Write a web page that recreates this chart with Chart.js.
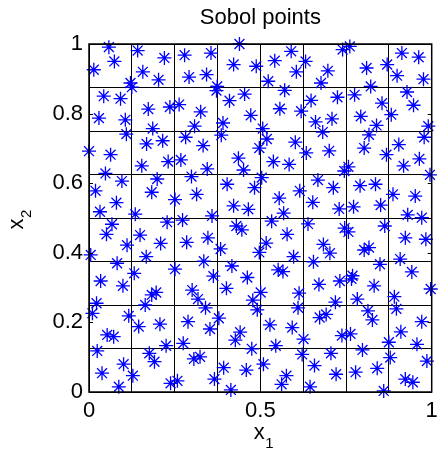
<!DOCTYPE html>
<html>
<head>
<meta charset="utf-8">
<script src="https://cdn.jsdelivr.net/npm/chart.js@4.4.1/dist/chart.umd.min.js"></script>
<style>
html, body { margin: 0; padding: 0; background: #fff; }
#wrap { width: 440px; height: 455px; }
</style>
</head>
<body>
<div id="wrap"><canvas id="c"></canvas></div>
<script>
// point coordinates
const xs = [
  0.058, 0.142, 0.220, 0.074, 0.014, 0.157, 0.203, 0.121, 0.125, 0.043, 0.092, 0.173, 0.236, 0.029, 0.106, 0.186, 0.109, 0.168, 0.215, 0.000, 0.063,
  0.439, 0.279, 0.356, 0.422, 0.488, 0.292, 0.343, 0.374, 0.372, 0.454, 0.410, 0.263, 0.326, 0.472, 0.391, 0.308, 0.507, 0.386, 0.282, 0.519, 0.333, 0.497,
  0.740, 0.761, 0.590, 0.542, 0.632, 0.605, 0.697, 0.523, 0.677, 0.571, 0.725, 0.648, 0.557, 0.619, 0.709, 0.661, 0.682, 0.602, 0.701, 0.634,
  0.913, 0.962, 0.810, 0.870, 0.899, 0.976, 0.822, 0.775, 0.928, 0.855, 0.947, 0.882, 0.793, 0.839, 0.990, 0.817, 0.978, 0.803, 0.904, 0.868,
  0.154, 0.231, 0.048, 0.096, 0.199, 0.019, 0.183, 0.251, 0.080, 0.032, 0.135, 0.067, 0.228, 0.051, 0.149, 0.111, 0.209, 0.005, 0.167, 0.082, 0.251, 0.132,
  0.268, 0.436, 0.451, 0.345, 0.299, 0.504, 0.403, 0.483, 0.314, 0.422, 0.465, 0.359, 0.273, 0.430, 0.446, 0.347, 0.285, 0.384, 0.497, 0.517, 0.335, 0.417, 0.363, 0.462,
  0.538, 0.584, 0.745, 0.757, 0.668, 0.713, 0.615, 0.555, 0.653, 0.730, 0.568, 0.533, 0.639, 0.746, 0.757, 0.578, 0.684, 0.703, 0.597, 0.655, 0.552, 0.566,
  0.964, 0.918, 0.995, 0.791, 0.836, 0.887, 0.952, 0.772, 0.851, 0.930, 0.971, 0.863, 0.923, 0.983, 0.803, 0.817, 0.908, 0.849, 0.942, 0.769,
  0.034, 0.099, 0.183, 0.196, 0.022, 0.164, 0.010, 0.116, 0.207, 0.145, 0.053, 0.072, 0.225, 0.024, 0.176, 0.191, 0.101, 0.038, 0.128, 0.087, 0.238,
  0.301, 0.401, 0.501, 0.318, 0.478, 0.340, 0.491, 0.289, 0.379, 0.353, 0.441, 0.427, 0.275, 0.475, 0.306, 0.324, 0.393, 0.509, 0.459, 0.258, 0.366, 0.414,
  0.671, 0.732, 0.613, 0.610, 0.719, 0.692, 0.673, 0.528, 0.593, 0.738, 0.626, 0.545, 0.706, 0.622, 0.658, 0.721, 0.576, 0.562, 0.645,
  0.766, 0.832, 0.997, 0.783, 0.891, 0.897, 0.814, 0.827, 0.971, 0.763, 0.910, 0.875, 0.957, 0.798, 0.879, 0.986, 0.841, 0.778, 0.923, 0.945, 0.860
];
const ys = [
  0.991, 0.981, 0.960, 0.950, 0.926, 0.920, 0.897, 0.888, 0.876, 0.850, 0.843, 0.813, 0.819, 0.787, 0.782, 0.757, 0.741, 0.713, 0.722, 0.692, 0.682,
  1.000, 0.968, 0.974, 0.941, 0.936, 0.905, 0.912, 0.878, 0.866, 0.856, 0.837, 0.826, 0.805, 0.795, 0.773, 0.764, 0.757, 0.738, 0.732, 0.727, 0.708, 0.701,
  0.984, 0.993, 0.979, 0.952, 0.950, 0.920, 0.923, 0.893, 0.888, 0.867, 0.847, 0.838, 0.814, 0.807, 0.785, 0.776, 0.747, 0.718, 0.693, 0.687,
  0.974, 0.962, 0.931, 0.941, 0.909, 0.899, 0.878, 0.854, 0.862, 0.830, 0.824, 0.797, 0.792, 0.766, 0.764, 0.739, 0.732, 0.701, 0.711, 0.682,
  0.650, 0.662, 0.628, 0.606, 0.612, 0.578, 0.574, 0.553, 0.544, 0.518, 0.511, 0.482, 0.488, 0.453, 0.451, 0.422, 0.427, 0.394, 0.389, 0.370, 0.353, 0.341,
  0.667, 0.672, 0.638, 0.641, 0.619, 0.616, 0.597, 0.587, 0.568, 0.535, 0.525, 0.506, 0.494, 0.477, 0.466, 0.443, 0.430, 0.411, 0.401, 0.428, 0.376, 0.362, 0.333, 0.329,
  0.662, 0.654, 0.635, 0.647, 0.609, 0.587, 0.578, 0.557, 0.545, 0.526, 0.514, 0.491, 0.483, 0.471, 0.460, 0.453, 0.424, 0.399, 0.389, 0.374, 0.351, 0.346,
  0.670, 0.650, 0.624, 0.593, 0.597, 0.568, 0.563, 0.532, 0.537, 0.509, 0.501, 0.477, 0.443, 0.439, 0.408, 0.415, 0.382, 0.367, 0.345, 0.334,
  0.319, 0.305, 0.279, 0.286, 0.255, 0.250, 0.226, 0.219, 0.195, 0.188, 0.164, 0.159, 0.133, 0.118, 0.111, 0.087, 0.080, 0.054, 0.047, 0.015, 0.025,
  0.293, 0.298, 0.286, 0.267, 0.264, 0.242, 0.236, 0.202, 0.212, 0.181, 0.172, 0.149, 0.140, 0.124, 0.095, 0.101, 0.070, 0.080, 0.063, 0.032, 0.037, 0.006,
  0.309, 0.319, 0.284, 0.242, 0.258, 0.223, 0.214, 0.193, 0.185, 0.162, 0.152, 0.133, 0.111, 0.108, 0.076, 0.051, 0.047, 0.022, 0.015,
  0.325, 0.305, 0.296, 0.267, 0.274, 0.239, 0.233, 0.207, 0.202, 0.167, 0.173, 0.143, 0.137, 0.121, 0.099, 0.089, 0.068, 0.057, 0.037, 0.028, 0.003
];
const gridVals = [0, 0.125, 0.25, 0.375, 0.5, 0.625, 0.75, 0.875, 1];
const xTickVals = [0, 0.5, 1];
const yTickVals = [0, 0.2, 0.4, 0.6, 0.8, 1];
const titleText = "Sobol points";

const FONT = "'Liberation Sans', Arial, Helvetica, sans-serif";
const has = (list, v) => list.some(u => Math.abs(u - v) < 1e-9);
const merged = list => [...new Set(gridVals.concat(list))].sort((a, b) => a - b);

const decor = {
    id: "decor",
    afterDraw(chart) {
        const { ctx, chartArea: a, scales: { x, y } } = chart;
        ctx.save();
        ctx.strokeStyle = "#000";
        ctx.lineWidth = 1;
        ctx.beginPath();
        yTickVals.forEach(v => {
            const py = Math.round(y.getPixelForValue(v)) + 0.5;
            ctx.moveTo(a.left, py); ctx.lineTo(a.left + 4, py);
            ctx.moveTo(a.right, py); ctx.lineTo(a.right - 4, py);
        });
        ctx.stroke();
        // box
        ctx.lineWidth = 1.5;
        ctx.strokeRect(a.left, a.top, a.right - a.left, a.bottom - a.top);

        ctx.fillStyle = "#000";
        ctx.textBaseline = "middle";
        ctx.textAlign = "center";
        ctx.font = "22px " + FONT;
        ctx.fillText(titleText, (a.left + a.right) / 2, 18);

        // x_1
        const cx = (a.left + a.right) / 2;
        ctx.fillText("x", cx - 1, 433);
        ctx.textAlign = "left";
        ctx.font = "15px " + FONT;
        ctx.fillText("1", cx + 5, 444);

        // x_2
        ctx.translate(17, (a.top + a.bottom) / 2 + 4);
        ctx.rotate(-Math.PI / 2);
        ctx.textAlign = "center";
        ctx.font = "22px " + FONT;
        ctx.fillText("x", -2, 0);
        ctx.textAlign = "left";
        ctx.font = "15px " + FONT;
        ctx.fillText("2", 4, 10);
        ctx.restore();
    }
};

new Chart(document.getElementById("c"), {
    type: "scatter",
    data: {
        datasets: [{
            data: xs.map((v, i) => ({ x: v, y: ys[i] })),
            pointStyle: "star",
            pointRadius: 7,
            borderColor: "#0000ff",
            backgroundColor: "#0000ff",
            borderWidth: 1.3,
            clip: false
        }]
    },
    options: {
        responsive: true,
        maintainAspectRatio: false,
        animation: false,
        layout: { padding: { top: 44, right: 5, left: 0, bottom: 0 } },
        plugins: { legend: { display: false }, tooltip: { enabled: false }, title: { display: false } },
        scales: {
            x: {
                type: "linear", min: 0, max: 1,
                afterBuildTicks: s => { s.ticks = merged(xTickVals).map(v => ({ value: v })); },
                afterFit: s => { s.height = 63; s.paddingRight = 0; s.paddingLeft = 0; },
                grid: { color: c => (c.tick && has(gridVals, c.tick.value)) ? "#000" : "rgba(0,0,0,0)", lineWidth: 1, drawTicks: false },
                border: { display: true, color: "#000", width: 1 },
                ticks: {
                    autoSkip: false, maxRotation: 0, padding: 6, color: "#000",
                    font: { family: FONT, size: 22 },
                    callback: v => has(xTickVals, v) ? String(v) : ""
                }
            },
            y: {
                type: "linear", min: 0, max: 1,
                afterBuildTicks: s => { s.ticks = merged(yTickVals).map(v => ({ value: v })); },
                afterFit: s => { s.width = 89; s.paddingTop = 0; s.paddingBottom = 0; },
                grid: { color: c => (c.tick && has(gridVals, c.tick.value)) ? "#000" : "rgba(0,0,0,0)", lineWidth: 1, drawTicks: false },
                border: { display: true, color: "#000", width: 1 },
                ticks: {
                    autoSkip: false, padding: 6, color: "#000",
                    font: { family: FONT, size: 22 },
                    callback: v => has(yTickVals, v) ? String(v) : ""
                }
            }
        }
    },
    plugins: [decor]
});
</script>
</body>
</html>
